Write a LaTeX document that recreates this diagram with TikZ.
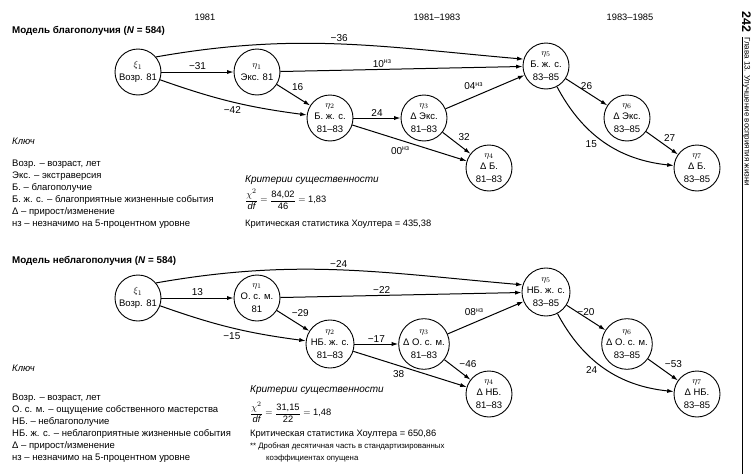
\documentclass[tikz,border=0pt]{standalone}
\usepackage{fontspec}
\setmainfont{Liberation Sans}
\usetikzlibrary{arrows.meta}

\begin{document}
\begin{tikzpicture}[x=1pt, y=1pt,
    var/.style={draw, circle, line width=0.9pt, minimum size=46pt, inner sep=0pt,
      align=center, font=\fontsize{9.5}{12.5}\selectfont},
    eff/.style={-{Latex[length=6.5pt, width=4.2pt]}, line width=1pt},
    coef/.style={font=\fontsize{10}{11}\selectfont, inner sep=1.5pt},
    key/.style={anchor=base west, font=\fontsize{9.5}{11}\selectfont, inner sep=0pt},
    head/.style={anchor=base west, font=\bfseries\fontsize{9.8}{11}\selectfont, inner sep=0pt}]

  \useasboundingbox (0,0) rectangle (756,-474);

  % years
  \foreach \t/\x [count=\i] in {1981/205, 1981–1983/437, 1983–1985/630}
    \node[font=\fontsize{9.3}{10}\selectfont] (year-\i) at (\x,-17) {\t};

  % page header
  \node[head, rotate=-90, font=\bfseries\fontsize{12.5}{13}\selectfont] (page) at (742,-11) {242};
  \node[key, rotate=-90, font=\fontsize{8}{10}\selectfont] (chapter) at (744.5,-37) {Глава 13. Улучшение восприятия жизни};
  \draw[line width=0.6pt] (chapter.south west) -- (chapter.south west |- 0,-474);

  % model 1
  \node[head] (title-b) at (12,-33) {Модель благополучия (\textit{N} = 584)};
  \foreach \n/\x/\y/\t in {
      x1/138/72/{$\xi_1$\\Возр. 81},
      e1/257/72/{$\eta_1$\\Экс. 81},
      e2/330/118/{$\eta_2$\\Б. ж. с.\\81–83},
      e3/424/118/{$\eta_3$\\Δ Экс.\\81–83},
      e4/489/168/{$\eta_4$\\Δ Б.\\81–83},
      e5/546/66/{$\eta_5$\\Б. ж. с.\\83–85},
      e6/627/118/{$\eta_6$\\Δ Экс.\\83–85},
      e7/697/168/{$\eta_7$\\Δ Б.\\83–85}}
    \node[var] (b-\n) at (\x,-\y) {\t};

  \draw[eff] (b-x1) -- node[coef, above] {−31} (b-e1);
  \draw[eff] (b-x1) to[bend right=6] node[coef, below=3pt] {−42} (b-e2);
  \draw[eff] (b-x1.40) to[out=10, in=175] node[coef, above] {−36} (b-e5.163);
  \draw[eff] (b-e1) -- node[coef, above, pos=0.42] {10\textsuperscript{нз}} (b-e5);
  \draw[eff] (b-e1) -- node[coef, above right, pos=0.4] {16} (b-e2);
  \draw[eff] (b-e2) -- node[coef, above] {24} (b-e3);
  \draw[eff] (b-e2) -- node[coef, below=5pt, pos=0.42] {00\textsuperscript{нз}} (b-e4);
  \draw[eff] (b-e3) -- node[coef, above left, pos=0.5] {04\textsuperscript{нз}} (b-e5);
  \draw[eff] (b-e3) -- node[coef, above right] {32} (b-e4);
  \draw[eff] (b-e5) -- node[coef, above] {26} (b-e6);
  \draw[eff] (b-e5) to[bend right=28] node[coef, below left, pos=0.45] {15} (b-e7);
  \draw[eff] (b-e6) -- node[coef, above right] {27} (b-e7);

  \node[key, font=\itshape\fontsize{9.5}{11}\selectfont] (key-b) at (12,-144) {Ключ};
  \foreach \t [count=\i] in {{Возр. – возраст, лет}, Экс. – экстраверсия,
      Б. – благополучие, Б. ж. с. – благоприятные жизненные события,
      Δ – прирост/изменение, нз – незначимо на 5-процентном уровне}
    \node[key] (kb-\i) at (12,-154-12*\i) {\t};

  \node[key, font=\itshape\fontsize{10}{12}\selectfont] (crit-b) at (245,-182) {Критерии существенности};
  \node[anchor=west, inner sep=0pt, font=\fontsize{9.3}{10}\selectfont] (chi-b) at (245,-199)
    {$\displaystyle\frac{\chi^2}{\mbox{\itshape df}} = \frac{\mbox{84,02}}{\mbox{46}} = \mbox{1,83}$};
  \node[key, font=\fontsize{9.3}{11}\selectfont] (hoel-b) at (245,-226) {Критическая статистика Хоултера = 435,38};

  % model 2
  \node[head] (title-nb) at (12,-263) {Модель неблагополучия (\textit{N} = 584)};
  \begin{scope}[yshift=-226pt]
    \foreach \n/\x/\y/\t in {
        x1/138/72/{$\xi_1$\\Возр. 81},
        e1/257/72/{$\eta_1$\\О. с. м.\\81},
        e2/330/118/{$\eta_2$\\НБ. ж. с.\\81–83},
        e3/424/118/{$\eta_3$\\Δ О. с. м.\\81–83},
        e4/489/168/{$\eta_4$\\Δ НБ.\\81–83},
        e5/546/66/{$\eta_5$\\НБ. ж. с.\\83–85},
        e6/627/118/{$\eta_6$\\Δ О. с. м.\\83–85},
        e7/697/168/{$\eta_7$\\Δ НБ.\\83–85}}
      \node[var] (nb-\n) at (\x,-\y) {\t};
  \end{scope}

  \draw[eff] (nb-x1) -- node[coef, above] {13} (nb-e1);
  \draw[eff] (nb-x1) to[bend right=6] node[coef, below=3pt] {−15} (nb-e2);
  \draw[eff] (nb-x1.40) to[out=10, in=175] node[coef, above] {−24} (nb-e5.163);
  \draw[eff] (nb-e1) -- node[coef, above, pos=0.42] {−22} (nb-e5);
  \draw[eff] (nb-e1) -- node[coef, above right, pos=0.4] {−29} (nb-e2);
  \draw[eff] (nb-e2) -- node[coef, above] {−17} (nb-e3);
  \draw[eff] (nb-e2) -- node[coef, below=3pt, pos=0.4] {38} (nb-e4);
  \draw[eff] (nb-e3) -- node[coef, above left, pos=0.5] {08\textsuperscript{нз}} (nb-e5);
  \draw[eff] (nb-e3) -- node[coef, above right] {−46} (nb-e4);
  \draw[eff] (nb-e5) -- node[coef, above] {−20} (nb-e6);
  \draw[eff] (nb-e5) to[bend right=28] node[coef, below left, pos=0.45] {24} (nb-e7);
  \draw[eff] (nb-e6) -- node[coef, above right] {−53} (nb-e7);

  \node[key, font=\itshape\fontsize{9.5}{11}\selectfont] (key-nb) at (12,-371) {Ключ};
  \foreach \t [count=\i] in {{Возр. – возраст, лет}, О. с. м. – ощущение собственного мастерства,
      НБ. – неблагополучие, НБ. ж. с. – неблагоприятные жизненные события,
      Δ – прирост/изменение, нз – незначимо на 5-процентном уровне}
    \node[key] (knb-\i) at (12,-388-12*\i) {\t};

  \node[key, font=\itshape\fontsize{10}{12}\selectfont] (crit-nb) at (250,-392) {Критерии существенности};
  \node[anchor=west, inner sep=0pt, font=\fontsize{9.3}{10}\selectfont] (chi-nb) at (250,-412)
    {$\displaystyle\frac{\chi^2}{\mbox{\itshape df}} = \frac{\mbox{31,15}}{\mbox{22}} = \mbox{1,48}$};
  \node[key, font=\fontsize{9.3}{11}\selectfont] (hoel-nb) at (250,-436) {Критическая статистика Хоултера = 650,86};
  \node[key, font=\fontsize{7.8}{9}\selectfont] (note-1) at (250,-448) {** Дробная десятичная часть в стандартизированных};
  \node[key, font=\fontsize{7.8}{9}\selectfont] (note-2) at (266,-460) {коэффициентах опущена};
\end{tikzpicture}
\end{document}
